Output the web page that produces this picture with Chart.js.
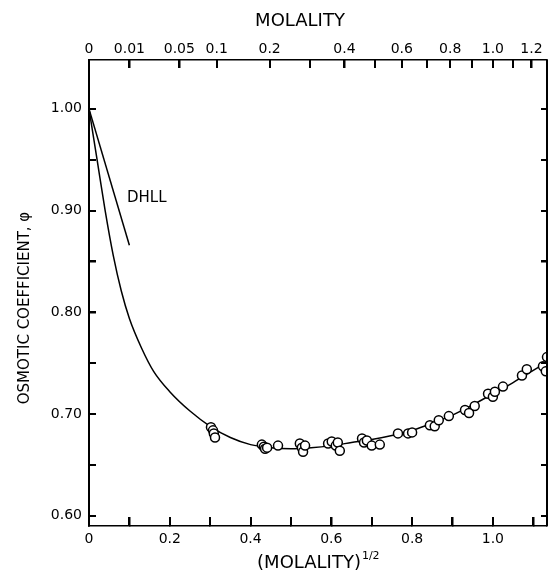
<!DOCTYPE html>
<html>
<head>
<meta charset="utf-8">
<script src="https://cdn.jsdelivr.net/npm/chart.js@4/dist/chart.umd.min.js"></script>
<style>
html, body { margin: 0; padding: 0; background: #fff; }
</style>
</head>
<body>
<canvas id="chart" width="548" height="574"></canvas>
<script>
// measured points: x = (molality)^1/2, y = osmotic coefficient
const sqrtM = [
    0.302, 0.307, 0.309, 0.312,
    0.428, 0.433, 0.436, 0.441, 0.468,
    0.522, 0.527, 0.530, 0.535,
    0.592, 0.601, 0.611, 0.616, 0.621,
    0.676, 0.681, 0.688, 0.700, 0.720,
    0.765, 0.790, 0.800,
    0.844, 0.856, 0.866, 0.891,
    0.931, 0.941, 0.955,
    0.988, 1.000, 1.005, 1.025,
    1.072, 1.084, 1.124, 1.131, 1.134,
];
const phi = [
    0.687, 0.684, 0.681, 0.677,
    0.670, 0.668, 0.666, 0.667, 0.669,
    0.671, 0.667, 0.663, 0.669,
    0.671, 0.673, 0.669, 0.672, 0.664,
    0.676, 0.672, 0.674, 0.669, 0.670,
    0.681, 0.681, 0.682,
    0.689, 0.688, 0.694, 0.698,
    0.704, 0.701, 0.708,
    0.720, 0.717, 0.722, 0.727,
    0.738, 0.744, 0.747, 0.742, 0.756,
];

// smooth fitted curve
const curveX = [0, 0.02, 0.04, 0.06, 0.08, 0.10, 0.13, 0.16, 0.20, 0.25, 0.30, 0.35, 0.40, 0.45,
    0.50, 0.55, 0.60, 0.65, 0.70, 0.75, 0.80, 0.85, 0.90, 0.95, 1.00, 1.05, 1.10, 1.134];
const curveY = [1.000, 0.950, 0.900, 0.856, 0.821, 0.794, 0.765, 0.742, 0.722, 0.703, 0.688, 0.677, 0.670, 0.667,
    0.666, 0.667, 0.669, 0.672, 0.675, 0.679, 0.684, 0.691, 0.699, 0.709, 0.720, 0.731, 0.743, 0.751];

// Debye-Hueckel limiting law
const dhllX = [0, 0.1];
const dhllY = [1.0, 0.866];
const dhllLabel = 'DHLL';

// axes
const yTicks = [0.60, 0.65, 0.70, 0.75, 0.80, 0.85, 0.90, 0.95, 1.00];
const yLabels = ['0.60', '', '0.70', '', '0.80', '', '0.90', '', '1.00'];
const xTicks = [0, 0.1, 0.2, 0.3, 0.4, 0.5, 0.6, 0.7, 0.8, 0.9, 1.0, 1.1];
const xLabels = ['0', '', '0.2', '', '0.4', '', '0.6', '', '0.8', '', '1.0', ''];
const topMolality = [0, 0.01, 0.05, 0.1, 0.2, 0.3, 0.4, 0.5, 0.6, 0.7, 0.8, 0.9, 1.0, 1.1, 1.2];
const topLabels = ['0', '0.01', '0.05', '0.1', '0.2', '', '0.4', '', '0.6', '', '0.8', '', '1.0', '', '1.2'];

const font = 'DejaVu Sans';
const xMax = 1.134;
const yMin = 0.590;
const yMax = 1.048;

// inward tick marks, DHLL label, superscript of the bottom title
const extras = {
    id: 'extras',
    afterDraw(chart) {
        const { ctx, chartArea: a, scales } = chart;
        ctx.save();
        ctx.fillStyle = '#000';
        yTicks.forEach(v => {
            let p = Math.round(scales.y.getPixelForValue(v));
            ctx.fillRect(a.left, p - 1, 7, 2);
            ctx.fillRect(a.right - 6, p - 1, 6, 2);
        });
        xTicks.forEach(v => {
            let p = Math.round(scales.x.getPixelForValue(v));
            ctx.fillRect(p - 1, a.bottom - 9, 2, 9);
        });
        topMolality.forEach(m => {
            let p = Math.round(scales.x2.getPixelForValue(Math.sqrt(m)));
            ctx.fillRect(p - 1, a.top, 2, 8);
        });
        ctx.fillRect(a.right - 1, a.top, 2, a.bottom - a.top);

        ctx.textBaseline = 'middle';
        ctx.textAlign = 'left';
        ctx.font = '15px "' + font + '"';
        ctx.fillText(dhllLabel, scales.x.getPixelForValue(0.094), scales.y.getPixelForValue(0.912));

        let t = chart.options.scales.x.title;
        ctx.font = t.font.size + 'px "' + font + '"';
        let full = ctx.measureText(t.text).width;
        let base = ctx.measureText('(MOLALITY)').width;
        let cx = (a.left + a.right) / 2;
        ctx.font = '11px "' + font + '"';
        ctx.fillText('1/2', cx - full / 2 + base + 1, 556);
        ctx.restore();
    },
};

function noEdgePadding(s) {
    s.paddingLeft = 0;
    s.paddingRight = 0;
    s.paddingTop = 0;
    s.paddingBottom = 0;
}

// tick marks point into the plot: negative tick length
function inward(len) {
    return { display: true, drawOnChartArea: false, drawTicks: true, tickLength: -len, color: '#000', lineWidth: 1.5 };
}

new Chart(document.getElementById('chart'), {
    type: 'scatter',
    data: {
        datasets: [
            {
                label: 'measured',
                data: sqrtM.map((x, i) => ({ x: x, y: phi[i] })),
                pointRadius: 4.5,
                pointBorderWidth: 1.5,
                pointBackgroundColor: '#fff',
                pointBorderColor: '#000',
                order: 0,
            },
            {
                label: 'curve',
                data: curveX.map((x, i) => ({ x: x, y: curveY[i] })),
                showLine: true,
                pointRadius: 0,
                borderColor: '#000',
                borderWidth: 1.5,
                cubicInterpolationMode: 'monotone',
                order: 1,
            },
            {
                label: dhllLabel,
                data: dhllX.map((x, i) => ({ x: x, y: dhllY[i] })),
                showLine: true,
                pointRadius: 0,
                borderColor: '#000',
                borderWidth: 1.5,
                order: 1,
            },
        ],
    },
    options: {
        responsive: false,
        animation: false,
        devicePixelRatio: 1,
        layout: { padding: 0, autoPadding: false },
        plugins: { legend: { display: false }, tooltip: { enabled: false } },
        scales: {
            x: {
                type: 'linear',
                position: 'bottom',
                min: 0,
                max: xMax,
                afterBuildTicks: s => { s.ticks = xTicks.map(v => ({ value: v })); },
                afterFit: s => { s.height = 48; noEdgePadding(s); },
                grid: inward(9),
                border: { display: true, color: '#000', width: 1.5 },
                ticks: {
                    autoSkip: false,
                    maxRotation: 0,
                    padding: 5 + 9,
                    color: '#000',
                    font: { family: font, size: 14 },
                    callback: (v, i) => xLabels[i],
                },
                title: {
                    display: true,
                    text: '(MOLALITY)\u2002\u2002',
                    color: '#000',
                    font: { family: font, size: 18 },
                    padding: { top: 0, bottom: 0 },
                },
            },
            x2: {
                type: 'linear',
                position: 'top',
                min: 0,
                max: xMax,
                afterBuildTicks: s => { s.ticks = topMolality.map(m => ({ value: Math.sqrt(m) })); },
                afterFit: s => { s.height = 60; noEdgePadding(s); },
                grid: inward(8),
                border: { display: true, color: '#000', width: 1.5 },
                ticks: {
                    autoSkip: false,
                    maxRotation: 0,
                    padding: 2 + 8,
                    color: '#000',
                    font: { family: font, size: 14 },
                    callback: (v, i) => topLabels[i],
                },
                title: {
                    display: true,
                    text: 'MOLALITY\u2002\u2002\u2002\u2002',
                    color: '#000',
                    font: { family: font, size: 18 },
                    padding: { top: 11, bottom: 0 },
                },
            },
            y: {
                type: 'linear',
                position: 'left',
                min: yMin,
                max: yMax,
                afterBuildTicks: s => { s.ticks = yTicks.map(v => ({ value: v })); },
                afterFit: s => { s.width = 89; noEdgePadding(s); },
                grid: inward(7),
                border: { display: true, color: '#000', width: 2 },
                ticks: {
                    autoSkip: false,
                    padding: 7 + 7,
                    color: '#000',
                    font: { family: font, size: 14 },
                    callback: (v, i) => yLabels[i],
                },
                title: {
                    display: true,
                    text: 'OSMOTIC COEFFICIENT, \u03c6\u2002\u2002\u2002\u2002',
                    color: '#000',
                    font: { family: font, size: 15 },
                    padding: { top: 16, bottom: 0 },
                },
            },
            y2: {
                type: 'linear',
                position: 'right',
                min: yMin,
                max: yMax,
                afterBuildTicks: s => { s.ticks = yTicks.map(v => ({ value: v })); },
                afterFit: s => { s.width = 1; noEdgePadding(s); },
                grid: inward(6),
                border: { display: true, color: '#000', width: 1.5 },
                ticks: { display: false },
            },
        },
    },
    plugins: [extras],
});
</script>
</body>
</html>
